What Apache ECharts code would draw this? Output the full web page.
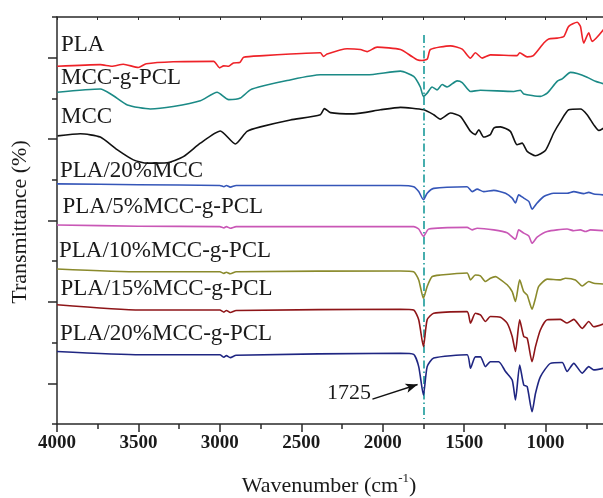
<!DOCTYPE html>
<html><head><meta charset="utf-8">
<script src="https://cdn.jsdelivr.net/npm/echarts@6/dist/echarts.min.js"></script>
<style>html,body{margin:0;padding:0;background:#fff;overflow:hidden}#c{width:603px;height:498px}</style>
</head><body><div id="c"></div>
<script>
const seriesNames = ['PLA','MCC-g-PCL','MCC','PLA/20%MCC','PLA/5%MCC-g-PCL','PLA/10%MCC-g-PCL','PLA/15%MCC-g-PCL','PLA/20%MCC-g-PCL'];
const seriesColors = ['#ee2228','#1b8a86','#111111','#3556b8','#c957b6','#8a8a2c','#8e1518','#1f2682'];

const PLA = [[3998,87.9],[3734,88.3],[3663,87.9],[3593,88.4],[3501,87.6],[3452,88.5],[3286,89.0],[3038,89.1],[3001,87.5],[2977,88.0],[2946,87.9],[2917,88.7],[2878,88.8],[2854,90.1],[2731,90.5],[2567,90.9],[2383,91.2],[2363,90.3],[2342,90.9],[2219,92.2],[2137,92.0],[2096,91.5],[2035,92.6],[1891,92.0],[1821,90.3],[1789,89.5],[1758,89.3],[1726,89.7],[1707,92.0],[1584,92.9],[1512,92.1],[1461,89.9],[1431,91.2],[1390,89.9],[1339,90.7],[1175,90.5],[1159,91.2],[1113,90.2],[1075,90.5],[1011,93.6],[981,94.6],[929,94.8],[888,95.2],[858,97.7],[806,98.7],[786,97.7],[766,93.6],[735,96.1],[714,94.0],[644,96.9]];
const MCC_g_PCL = [[3998,81.5],[3734,82.3],[3663,80.9],[3568,78.4],[3427,77.4],[3286,78.0],[3120,79.4],[3017,81.5],[2946,79.7],[2874,80.1],[2813,82.1],[2731,83.1],[2587,84.4],[2383,85.8],[2096,85.8],[1891,86.7],[1810,85.4],[1769,82.8],[1750,80.5],[1727,81.3],[1697,82.8],[1666,82.1],[1635,83.4],[1605,82.8],[1543,84.3],[1512,83.9],[1461,81.7],[1400,82.0],[1195,81.7],[1155,82.0],[1134,81.1],[1032,80.5],[990,81.3],[929,84.2],[898,84.8],[847,86.4],[806,86.1],[745,85.2],[694,84.2],[644,83.6]];
const MCC = [[3996,70.8],[3857,71.3],[3734,70.5],[3631,67.4],[3531,64.9],[3447,64.1],[3324,64.2],[3224,65.7],[3120,69.0],[2997,72.0],[2905,68.8],[2833,71.9],[2751,73.0],[2567,74.7],[2383,76.0],[2358,77.5],[2321,76.5],[2178,76.2],[2014,77.2],[1891,77.8],[1748,77.2],[1687,76.0],[1646,74.9],[1584,76.4],[1523,75.6],[1461,71.9],[1431,71.1],[1410,72.3],[1380,70.5],[1339,71.1],[1318,72.7],[1277,73.0],[1216,71.9],[1175,68.6],[1144,69.0],[1113,67.0],[1062,65.9],[1001,67.2],[950,71.5],[909,74.3],[858,77.2],[786,77.4],[745,76.0],[704,73.5],[673,72.1],[644,72.7]];
const PLA_20MCC = [[4000,59.0],[3500,58.8],[3000,58.6],[2975,58.3],[2960,58.6],[2936,58.2],[2900,58.6],[1891,58.6],[1810,58.3],[1779,57.1],[1750,55.1],[1727,56.7],[1687,57.9],[1482,58.3],[1451,57.1],[1420,57.7],[1380,57.1],[1318,57.4],[1246,56.7],[1205,55.5],[1185,54.3],[1165,56.3],[1134,55.5],[1103,54.7],[1083,52.8],[1052,54.3],[1011,55.9],[950,56.7],[868,56.7],[827,57.1],[766,56.6],[735,56.9],[704,56.5],[644,56.3]];
const PLA_5MCCgPCL = [[4000,48.9],[3500,48.6],[3000,48.5],[2975,48.2],[2960,48.5],[2936,48.1],[2900,48.5],[1891,48.5],[1810,48.5],[1779,47.9],[1750,46.1],[1717,47.9],[1482,48.3],[1451,47.7],[1420,48.1],[1318,47.7],[1236,47.0],[1185,45.4],[1165,47.7],[1134,46.9],[1103,46.2],[1083,44.4],[1052,45.9],[990,47.3],[868,47.9],[827,47.5],[786,47.7],[755,47.3],[724,47.7],[644,47.5]];
const PLA_10MCCgPCL = [[4000,38.1],[3488,37.4],[3000,37.4],[2975,37.0],[2960,37.3],[2936,36.9],[2900,37.4],[1891,37.6],[1810,37.4],[1779,35.4],[1750,30.9],[1727,33.8],[1697,36.2],[1646,36.6],[1482,37.1],[1461,35.4],[1431,36.6],[1400,36.4],[1369,35.0],[1339,35.8],[1308,36.2],[1288,35.8],[1236,34.2],[1205,32.5],[1185,30.1],[1159,35.4],[1134,32.5],[1113,31.7],[1083,28.2],[1062,30.9],[1042,33.8],[990,35.6],[909,35.4],[878,35.8],[817,35.4],[775,33.9],[735,35.0],[704,34.6],[644,34.4]];
const PLA_15MCCgPCL = [[4000,29.3],[3488,28.0],[3000,28.0],[2975,27.5],[2960,27.9],[2936,27.4],[2900,27.9],[1891,28.2],[1810,28.0],[1779,25.6],[1750,19.0],[1727,25.6],[1687,27.2],[1482,27.6],[1461,24.8],[1431,27.2],[1400,26.8],[1369,25.2],[1339,26.4],[1277,26.2],[1236,24.8],[1205,21.5],[1185,17.8],[1159,25.6],[1134,21.5],[1113,21.1],[1083,15.3],[1062,19.0],[1032,23.1],[990,25.6],[909,25.7],[868,24.8],[827,25.7],[775,23.5],[735,25.2],[704,23.9],[644,24.6]];
const PLA_20MCCgPCL = [[4000,17.8],[3488,17.0],[3000,17.0],[2975,16.4],[2960,16.8],[2936,16.3],[2900,16.9],[1891,17.4],[1810,17.1],[1779,14.1],[1750,7.1],[1727,14.1],[1687,16.2],[1482,17.0],[1461,13.7],[1431,16.5],[1400,16.5],[1369,14.1],[1339,15.3],[1288,15.3],[1246,12.9],[1205,10.8],[1185,5.9],[1159,14.5],[1134,9.6],[1113,9.2],[1083,3.0],[1062,7.5],[1032,11.6],[970,14.9],[898,15.1],[868,12.9],[827,14.9],[775,12.5],[735,14.1],[704,13.3],[644,13.7]];

const allData = [PLA, MCC_g_PCL, MCC, PLA_20MCC, PLA_5MCCgPCL, PLA_10MCCgPCL, PLA_15MCCgPCL, PLA_20MCCgPCL];
const peakWavenumber = 1750;
const peakLabel = '1725';
const labelPos = [[61,45.5],[61,78],[61,117.5],[60,171.5],[62.5,207.5],[59,251],[60.5,289],[60,334]];

const serif = "'Liberation Serif','Times New Roman',serif";
const axisColor = '#2a2a2a';

const series = allData.map((d, i) => ({
  name: seriesNames[i], type: 'line', data: d, showSymbol: false, symbol: 'none',
  smooth: 0.2, lineStyle: { color: seriesColors[i], width: 1.6 }, itemStyle: { color: seriesColors[i] },
  z: 2 + i, animation: false
}));
series[7].markLine = {
  silent: true, animation: false, symbol: ['none', 'none'],
  label: { show: false },
  data: [
    [{ coord: [peakWavenumber, 95.6], lineStyle: { color: '#1a9a9a', width: 1.6, type: [8, 3, 1.5, 3] } },
     { coord: [peakWavenumber, 1.2] }],
    [{ coord: [2063, 6.1], symbol: 'none', lineStyle: { color: '#111', width: 1.4, type: 'solid' } },
     { coord: [1786, 9.7], symbol: 'arrow', symbolSize: [7, 12] }]
  ]
};

const chart = echarts.init(document.getElementById('c'), null, { renderer: 'canvas' });
chart.setOption({
  animation: false,
  backgroundColor: '#fff',
  grid: { left: 57, top: 17, width: 570, height: 407, containLabel: false, outerBoundsMode: 'none' },
  xAxis: [{
    type: 'value', inverse: true, min: 500, max: 4000, interval: 500, position: 'bottom',
    axisLine: { show: true, lineStyle: { color: axisColor, width: 1.5 } },
    axisTick: { show: true, inside: false, length: 8, lineStyle: { color: axisColor, width: 1.5 } },
    minorTick: { show: true, splitNumber: 2, length: 5, lineStyle: { color: axisColor, width: 1.5 } },
    axisLabel: { show: true, margin: 10, color: '#1a1a1a', fontFamily: serif, fontWeight: 'bold', fontSize: 19, showMinLabel: false, showMaxLabel: true, formatter: v => String(v) },
    splitLine: { show: false }
  }, {
    type: 'value', inverse: true, min: 500, max: 4000, interval: 250, position: 'top',
    axisLine: { show: true, lineStyle: { color: axisColor, width: 1.5 } },
    axisTick: { show: true, inside: true, length: 3, lineStyle: { color: axisColor, width: 1 } },
    axisLabel: { show: false }, splitLine: { show: false }
  }],
  yAxis: {
    type: 'value', min: 0, max: 100, interval: 20, position: 'left',
    axisLine: { show: true, lineStyle: { color: axisColor, width: 1.5 } },
    axisTick: { show: true, inside: false, length: 5, lineStyle: { color: axisColor, width: 1.5 } },
    minorTick: { show: true, splitNumber: 2, length: 9, lineStyle: { color: axisColor, width: 1.5 } },
    axisLabel: { show: false }, splitLine: { show: false }
  },
  graphic: [
    ...seriesNames.map((n, i) => ({
      type: 'text', left: labelPos[i][0], top: labelPos[i][1] - 12, z: 50, silent: true,
      style: { text: n, fontFamily: serif, fontSize: 23, fill: '#1a1a1a' }
    })),
    { type: 'text', x: 371, y: 393, z: 50, silent: true,
      style: { text: peakLabel, fontFamily: serif, fontSize: 22, fill: '#1a1a1a', align: 'right', verticalAlign: 'middle' } },
    { type: 'text', x: 20, y: 222, rotation: Math.PI / 2, z: 50, silent: true,
      style: { text: 'Transmittance (%)', fontFamily: serif, fontSize: 22, fill: '#1a1a1a', align: 'center', verticalAlign: 'middle' } },
    { type: 'text', x: 329, y: 486, z: 50, silent: true,
      style: { text: 'Wavenumber (cm{s|-1})', fontFamily: serif, fontSize: 22, fill: '#1a1a1a', align: 'center', verticalAlign: 'middle',
        rich: { s: { fontSize: 13, fontFamily: serif, fill: '#1a1a1a', verticalAlign: 'top', padding: [0, 0, 14, 0] } } } }
  ],
  series: series
});
</script></body></html>
